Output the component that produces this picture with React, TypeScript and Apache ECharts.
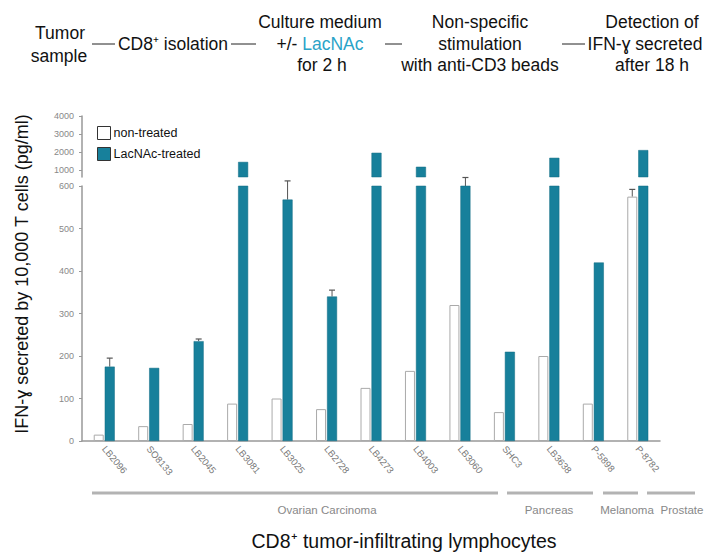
import React, { useEffect, useRef } from "react";
import * as echarts from "echarts";

const categories = ["LB2096", "SO8133", "LB2045", "LB3081", "LB3025", "LB2728", "LB4273", "LB4003", "LB3060", "SHC3", "LB3638", "P-5898", "P-8782"];
const nonTreated = [15, 35, 40, 88, 100, 75, 125, 165, 320, 68, 200, 88, 575];
const lacNAcTreated = [175, 172, 235, 1440, 568, 340, 1950, 1170, 605, 210, 1670, 420, 2100];
const nonTreatedErrHigh = [null, null, null, null, null, null, null, null, null, null, null, null, 592];
const lacNAcErrHigh = [195, null, 240, null, 612, 355, null, null, 620, null, null, null, null];
const upperTicks = [1000, 2000, 3000, 4000];
const groups = [
  { name: "Ovarian Carcinoma", x1: 92, x2: 498, lx: 327 },
  { name: "Pancreas", x1: 507, x2: 593, lx: 549 },
  { name: "Melanoma", x1: 603, x2: 638, lx: 627 },
  { name: "Prostate", x1: 647, x2: 695, lx: 682 },
];

const FONT = "'Liberation Sans', Arial, Helvetica, sans-serif";
const TEAL = "#17809b";
const BREAK = 600;
const HF = 17.5;

export default function App() {
  const ref = useRef<HTMLDivElement>(null);
  useEffect(() => {
    if (!ref.current) return;
    const chart = echarts.init(ref.current, null, { renderer: "svg" });
    const errData: any[] = [];
    nonTreatedErrHigh.forEach((h, i) => {
      if (h != null) errData.push([i, nonTreated[i], h, -5.5]);
    });
    lacNAcErrHigh.forEach((h, i) => {
      if (h != null) errData.push([i, Math.min(lacNAcTreated[i], BREAK), h, 5.5]);
    });
    const headerText = (text: string, x: number, y: number, extra: any = {}) => ({
      type: "text",
      x,
      y,
      style: { text, fontSize: HF, fontFamily: FONT, fill: "#111", align: "center", verticalAlign: "middle", ...extra },
    });
    const dash = (x1: number, x2: number) => ({
      type: "line",
      shape: { x1, y1: 44, x2, y2: 44 },
      style: { stroke: "#222", lineWidth: 1 },
    });
    const tickLabel = { fontSize: 9, color: "#888", fontFamily: FONT, margin: 8 };
    const option: any = {
      animation: false,
      backgroundColor: "#fff",
      grid: [
        { left: 82, top: 186, width: 578, height: 255 },
        { left: 82, top: 116, width: 578, height: 61 },
      ],
      legend: {
        data: ["non-treated", "LacNAc-treated"],
        orient: "vertical",
        left: 92,
        top: 121,
        itemWidth: 13,
        itemHeight: 13,
        itemGap: 7,
        icon: "rect",
        itemStyle: { borderColor: "#333", borderWidth: 1 },
        textStyle: { fontSize: 12.5, fontFamily: FONT, color: "#111", padding: [0, 0, 0, -2] },
      },
      xAxis: [
        {
          type: "category",
          gridIndex: 0,
          data: categories,
          axisLine: { lineStyle: { color: "#999", width: 1.5 } },
          axisTick: { show: false },
          axisLabel: { rotate: -50, fontSize: 9.5, color: "#777", fontFamily: FONT, margin: 6, interval: 0 },
        },
        { type: "category", gridIndex: 1, data: categories, show: false },
      ],
      yAxis: [
        {
          type: "value",
          gridIndex: 0,
          min: 0,
          max: BREAK,
          interval: 100,
          splitLine: { show: false },
          axisLine: { show: true, lineStyle: { color: "#999", width: 1.5 } },
          axisTick: { show: true, length: 3, lineStyle: { color: "#999" } },
          axisLabel: tickLabel,
        },
        {
          type: "value",
          gridIndex: 1,
          min: BREAK,
          max: 4000,
          splitLine: { show: false },
          axisLine: { show: true, lineStyle: { color: "#999", width: 1.5 } },
          axisTick: { show: true, length: 3, customValues: upperTicks, lineStyle: { color: "#999" } },
          axisLabel: { ...tickLabel, customValues: upperTicks, formatter: (v: number) => String(v) },
        },
      ],
      series: [
        {
          name: "non-treated",
          type: "bar",
          xAxisIndex: 0,
          yAxisIndex: 0,
          data: nonTreated,
          barWidth: 10,
          barGap: "10%",
          itemStyle: { color: "#fff", borderColor: "#aaa", borderWidth: 1 },
        },
        {
          name: "LacNAc-treated",
          type: "bar",
          xAxisIndex: 0,
          yAxisIndex: 0,
          data: lacNAcTreated,
          barWidth: 10,
          barGap: "10%",
          itemStyle: { color: TEAL, borderColor: "#116b82", borderWidth: 0.5 },
        },
        {
          name: "non-treated",
          type: "bar",
          xAxisIndex: 1,
          yAxisIndex: 1,
          data: nonTreated.map((v) => (v > BREAK ? v : "-")),
          barWidth: 10,
          barGap: "10%",
          itemStyle: { color: "#fff", borderColor: "#aaa", borderWidth: 1 },
        },
        {
          name: "LacNAc-treated",
          type: "bar",
          xAxisIndex: 1,
          yAxisIndex: 1,
          data: lacNAcTreated.map((v) => (v > BREAK ? v : "-")),
          barWidth: 10,
          barGap: "10%",
          itemStyle: { color: TEAL, borderColor: "#116b82", borderWidth: 0.5 },
        },
        {
          type: "custom",
          xAxisIndex: 0,
          yAxisIndex: 0,
          clip: false,
          data: errData,
          encode: { x: 0, y: [1, 2] },
          renderItem: (params: any, api: any) => {
            const idx = api.value(0);
            const lo = api.coord([idx, api.value(1)]);
            const hi = api.coord([idx, api.value(2)]);
            const cx = lo[0] + api.value(3);
            return {
              type: "group",
              children: [
                { type: "line", shape: { x1: cx, y1: lo[1], x2: cx, y2: hi[1] }, style: { stroke: "#555", lineWidth: 1 } },
                { type: "line", shape: { x1: cx - 3, y1: hi[1], x2: cx + 3, y2: hi[1] }, style: { stroke: "#555", lineWidth: 1.2 } },
              ],
            };
          },
        },
      ],
      graphic: [
        headerText("Tumor", 60, 33),
        headerText("sample", 59, 56),
        dash(92, 115),
        headerText("CD8⁺ isolation", 173, 44),
        dash(231, 256),
        headerText("Culture medium", 320, 22),
        {
          type: "text",
          x: 320,
          y: 44,
          style: {
            text: "+/- {b|LacNAc}",
            fontSize: HF,
            fontFamily: FONT,
            fill: "#111",
            align: "center",
            verticalAlign: "middle",
            rich: { b: { fill: "#2aa3c8", fontSize: HF, fontFamily: FONT } },
          },
        },
        headerText("for 2 h", 322, 65),
        dash(385, 402),
        headerText("Non-specific", 480, 22),
        headerText("stimulation", 480, 44),
        headerText("with anti-CD3 beads", 480, 65),
        dash(562, 585),
        headerText("Detection of", 652, 22),
        headerText("IFN-ɣ secreted", 645, 44),
        headerText("after 18 h", 652, 65),
        {
          type: "text",
          x: 22,
          y: 274,
          rotation: Math.PI / 2,
          style: {
            text: "IFN-ɣ secreted by 10,000 T cells (pg/ml)",
            fontSize: 18,
            fontFamily: FONT,
            fill: "#111",
            align: "center",
            verticalAlign: "middle",
          },
        },
        headerText("CD8⁺ tumor-infiltrating lymphocytes", 404, 541, { fontSize: 19.5 }),
        ...groups.map((g) => ({
          type: "line",
          shape: { x1: g.x1, y1: 493, x2: g.x2, y2: 493 },
          style: { stroke: "#b3b3b3", lineWidth: 3 },
        })),
        ...groups.map((g) => ({
          type: "text",
          x: g.lx,
          y: 510,
          style: { text: g.name, fontSize: 11.5, fontFamily: FONT, fill: "#888", align: "center", verticalAlign: "middle" },
        })),
      ],
    };
    chart.setOption(option);
    return () => chart.dispose();
  }, []);
  return <div ref={ref} style={{ position: "fixed", left: 0, top: 0, width: 707, height: 554, background: "#fff" }} />;
}
